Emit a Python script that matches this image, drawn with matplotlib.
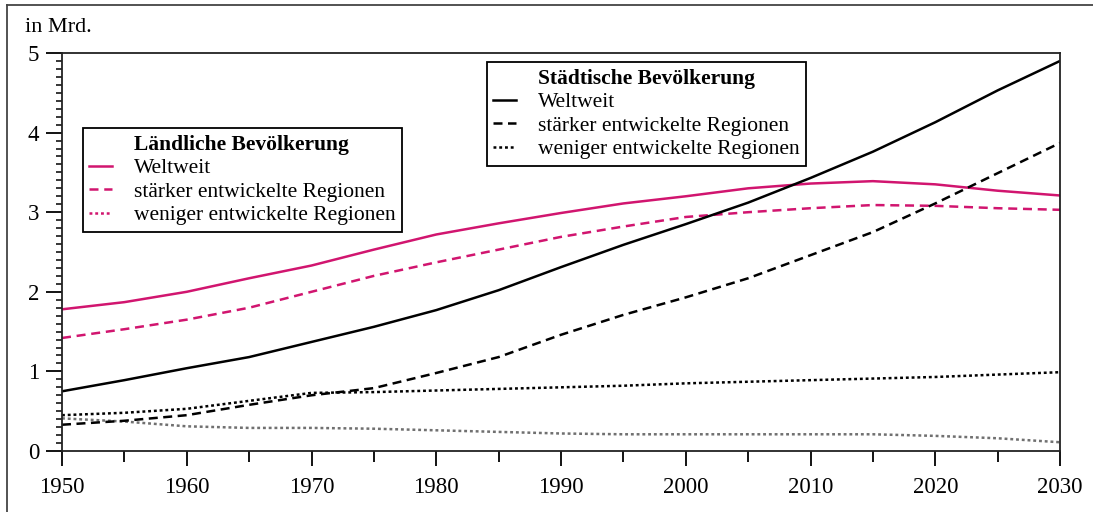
import matplotlib
matplotlib.use('Agg')
import matplotlib.pyplot as plt
from matplotlib.lines import Line2D
from matplotlib.ticker import MultipleLocator

plt.rcParams['font.family'] = ['Liberation Serif', 'DejaVu Serif']

# ---- data (in Mrd.) ----
years = [1950, 1955, 1960, 1965, 1970, 1975, 1980, 1985, 1990,
         1995, 2000, 2005, 2010, 2015, 2020, 2025, 2030]

urban_world = [0.75, 0.89, 1.04, 1.18, 1.37, 1.56, 1.77, 2.02, 2.31,
               2.59, 2.85, 3.12, 3.43, 3.76, 4.13, 4.53, 4.90]
urban_more = [0.33, 0.38, 0.45, 0.58, 0.70, 0.79, 0.98, 1.18, 1.46,
              1.71, 1.93, 2.17, 2.46, 2.75, 3.11, 3.49, 3.87]
urban_less = [0.45, 0.48, 0.53, 0.63, 0.73, 0.74, 0.76, 0.78, 0.80,
              0.82, 0.85, 0.87, 0.89, 0.91, 0.93, 0.96, 0.99]

rural_world = [1.78, 1.87, 2.00, 2.17, 2.33, 2.53, 2.72, 2.86, 2.99,
               3.11, 3.20, 3.30, 3.36, 3.39, 3.35, 3.27, 3.21]
rural_more = [1.42, 1.53, 1.65, 1.80, 2.00, 2.20, 2.37, 2.53, 2.69,
              2.82, 2.94, 3.00, 3.05, 3.09, 3.08, 3.05, 3.03]
rural_less = [0.41, 0.37, 0.31, 0.29, 0.29, 0.28, 0.26, 0.24, 0.22,
              0.21, 0.21, 0.21, 0.21, 0.21, 0.19, 0.16, 0.11]

legend_rural_title = 'Ländliche Bevölkerung'
legend_urban_title = 'Städtische Bevölkerung'
legend_items = ['Weltweit', 'stärker entwickelte Regionen', 'weniger entwickelte Regionen']
unit_label = 'in Mrd.'

MAGENTA = '#D1156F'
GREY = '#707070'

W, H = 1093, 512
fig = plt.figure(figsize=(W / 100, H / 100), dpi=100)
fig.patch.set_facecolor('white')

# outer frame (left and top edges)
fig.add_artist(Line2D([7 / W, 7 / W], [0, 1 - 5 / H], transform=fig.transFigure,
                      color='#444444', lw=1.3))
fig.add_artist(Line2D([7 / W, 1], [1 - 5 / H, 1 - 5 / H], transform=fig.transFigure,
                      color='#444444', lw=1.3))

ax = fig.add_axes([62 / W, (H - 451) / H, 998 / W, 398 / H])

lw = 1.8
l_rw, = ax.plot(years, rural_world, color=MAGENTA, lw=lw, solid_joinstyle='round')
l_rm, = ax.plot(years, rural_more, color=MAGENTA, lw=lw, dashes=(3.6, 2.3))
ax.plot(years, rural_less, color=GREY, lw=lw, dashes=(1.15, 1.15))
l_uw, = ax.plot(years, urban_world, color='black', lw=lw, solid_joinstyle='round')
l_um, = ax.plot(years, urban_more, color='black', lw=lw, dashes=(3.6, 2.2))
l_ul, = ax.plot(years, urban_less, color='black', lw=lw, dashes=(1.15, 1.15))

ax.set_xlim(1950, 2030)
ax.set_ylim(0, 5)
ax.xaxis.set_major_locator(MultipleLocator(10))
ax.xaxis.set_minor_locator(MultipleLocator(5))
ax.yaxis.set_major_locator(MultipleLocator(1))
ax.yaxis.set_minor_locator(MultipleLocator(0.1))
ax.tick_params(axis='x', which='major', direction='out', length=10.5, width=1.3,
               pad=8.5, labelsize=16.5)
ax.tick_params(axis='x', which='minor', direction='out', length=8, width=1.3)
ax.tick_params(axis='y', which='major', direction='out', length=11.5, width=1.3,
               pad=5, labelsize=16.5)
ax.tick_params(axis='y', which='minor', direction='out', length=4.5, width=1.1)
for s in ax.spines.values():
    s.set_linewidth(1.3)
    s.set_color('#222222')

fig.text(25 / W, 1 - 28 / H, unit_label, fontsize=16, va='center', ha='left')

# legends
blank = Line2D([], [], color='none')
rl_proxy = Line2D([], [], color=MAGENTA, lw=lw, dashes=(1.15, 1.15))
leg_kw = dict(loc='upper left', borderaxespad=0, frameon=True, fancybox=False,
              edgecolor='black', framealpha=1, fontsize=15.5, handlelength=1.05,
              handletextpad=1.0, labelspacing=0.16, borderpad=0.3)
leg1 = ax.legend([blank, l_rw, l_rm, rl_proxy], [legend_rural_title] + legend_items,
                 bbox_to_anchor=(21 / 998, (451 - 128) / 398), **leg_kw)
leg1.get_frame().set_linewidth(1.3)
leg1.get_texts()[0].set_fontweight('bold')
ax.add_artist(leg1)
leg2 = ax.legend([blank, l_uw, l_um, l_ul], [legend_urban_title] + legend_items,
                 bbox_to_anchor=(425 / 998, (451 - 62) / 398), **leg_kw)
leg2.get_frame().set_linewidth(1.3)
leg2.get_texts()[0].set_fontweight('bold')

fig.savefig('out.png', dpi=100)
